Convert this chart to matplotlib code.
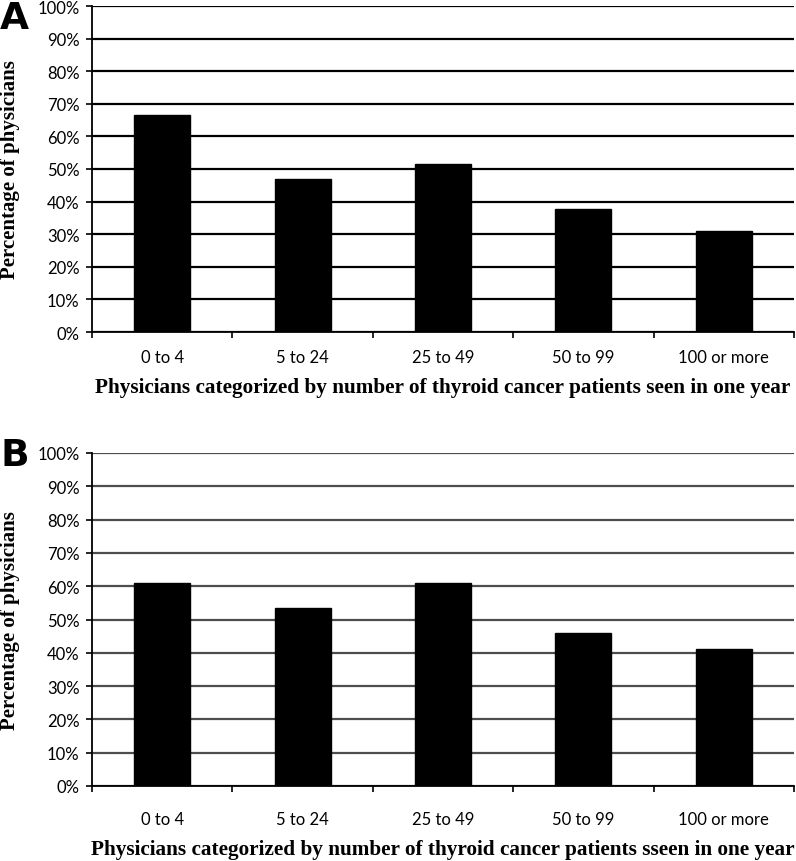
import numpy as np
import matplotlib
matplotlib.use("Agg")
import matplotlib.pyplot as plt
from matplotlib.ticker import FixedLocator, PercentFormatter

# values (percent of physicians)
categories = ["0 to 4", "5 to 24", "25 to 49", "50 to 99", "100 or more"]
panel_a = [66.7, 47.0, 51.4, 37.7, 30.9]
panel_b = [60.9, 53.6, 61.1, 45.9, 41.1]
xlabel_a = "Physicians categorized by number of thyroid cancer patients seen in one year"
xlabel_b = "Physicians categorized by number of thyroid cancer patients sseen in one year"
ylabel = "Percentage of physicians"
yticks = np.arange(0, 101, 10)

W, H = 796, 862
fig = plt.figure(figsize=(W / 100, H / 100), dpi=100)

serif = ["Liberation Serif", "DejaVu Serif"]
sans = ["Lato", "DejaVu Sans"]


def panel(rect, values, xlab, letter, letter_top, grid_col, xpad):
    ax = fig.add_axes(rect)
    x = np.arange(len(categories))
    ax.bar(x, values, width=0.4, color="black", edgecolor="black", zorder=3)
    ax.set_xlim(-0.5, len(categories) - 0.5)
    ax.set_ylim(0, 100)
    ax.set_yticks(yticks)
    ax.yaxis.set_major_formatter(PercentFormatter(decimals=0))
    ax.grid(axis="y", color=grid_col, linewidth=1.6, zorder=0)
    ax.set_axisbelow(True)

    # labels at category centres, tick marks at category boundaries
    ax.set_xticks(x)
    ax.set_xticklabels(categories)
    ax.xaxis.set_minor_locator(FixedLocator(np.arange(-0.5, len(categories), 1)))
    ax.tick_params(axis="x", which="major", length=0, pad=xpad)
    ax.tick_params(axis="x", which="minor", length=4, width=1.2, color="black")
    ax.tick_params(axis="y", length=4, width=1.2, pad=5)
    for lab in ax.get_xticklabels() + ax.get_yticklabels():
        lab.set_family(sans)
        lab.set_fontsize(12)

    for s in ["top", "right"]:
        ax.spines[s].set_visible(False)
    ax.spines["left"].set_linewidth(1.3)
    ax.spines["bottom"].set_linewidth(1.3)

    ax.set_xlabel(xlab, family=serif, fontweight="bold", fontsize=15.3, labelpad=9)
    ax.set_ylabel(ylabel, family=serif, fontweight="bold", fontsize=15)
    ax.yaxis.set_label_coords(-0.102, 0.5)
    fig.text(0.0, 1 - letter_top / H, letter, fontsize=27, fontweight="bold",
             family="DejaVu Sans", ha="left", va="top")
    return ax


panel([92 / W, 1 - 333 / H, 702 / W, 326 / H], panel_a, xlabel_a, "A", 1, "black", 12)
panel([92 / W, 1 - 787 / H, 702 / W, 333 / H], panel_b, xlabel_b, "B", 438, "#4d4d4d", 18)

fig.savefig("out.png", dpi=100)
